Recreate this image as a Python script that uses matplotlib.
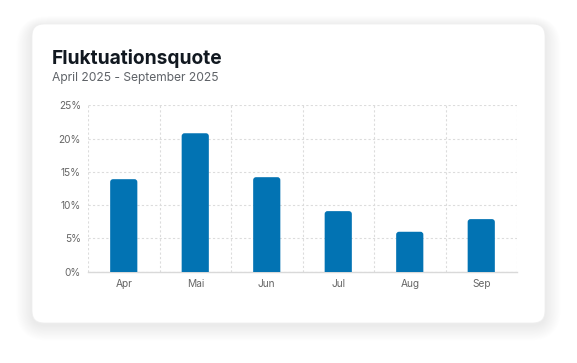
import matplotlib.pyplot as plt
from matplotlib.patches import FancyBboxPatch
from matplotlib.ticker import FuncFormatter, MultipleLocator
import numpy as np

months = ["Apr", "Mai", "Jun", "Jul", "Aug", "Sep"]
quote = [13.9, 20.8, 14.2, 9.1, 6.0, 7.9]
title = "Fluktuationsquote"
subtitle = "April 2025 - September 2025"

W, H = 577, 363
fig = plt.figure(figsize=(W / 100, H / 100), dpi=100)
fig.patch.set_facecolor("white")

# card with soft shadow (figure pixel coords -> fraction)
cx0, cy0, cx1, cy1 = 32, 24, 545, 323
def card_box(x0, y0, x1, y1, r, **kw):
    return FancyBboxPatch((x0 / W, 1 - y1 / H), (x1 - x0) / W, (y1 - y0) / H,
                          boxstyle=f"round,pad=0,rounding_size={r / W}",
                          mutation_aspect=W / H, transform=fig.transFigure, zorder=-5, **kw)

for i in range(20, 0, -1):
    fig.patches.append(card_box(cx0 - i * 0.8, cy0 + 2 - i * 0.5, cx1 + i * 0.8, cy1 + 2 + i * 0.8,
                                12 + i, facecolor="black", edgecolor="none", alpha=0.0055))
fig.patches.append(card_box(cx0, cy0, cx1, cy1, 12, facecolor="white", edgecolor="#efefef", lw=0.6))

fig.text(52 / W, 1 - 58 / H, title, fontsize=13.8, fontweight="bold", family=["Inter", "DejaVu Sans"],
         color="#111820", va="center", ha="left")
fig.text(52 / W, 1 - 78 / H, subtitle, fontsize=8.7, family=["Inter", "DejaVu Sans"],
         color="#5f6368", va="center", ha="left")

ax = fig.add_axes([88 / W, 1 - 271.7 / H, 429 / W, 166.4 / H])
ax.set_facecolor("none")
x = np.arange(len(months))
ax.set_xlim(-0.5, len(months) - 0.5)
ax.set_ylim(0, 25)

bw = 0.38
for xi, v in zip(x, quote):
    ax.add_patch(FancyBboxPatch((xi - bw / 2, -1), bw, v + 1,
                                boxstyle="round,pad=0,rounding_size=0.04",
                                mutation_aspect=10.7, facecolor="#0273b3", edgecolor="none",
                                clip_on=True, zorder=3))

ax.yaxis.set_major_locator(MultipleLocator(5))
ax.yaxis.set_major_formatter(FuncFormatter(lambda v, p: f"{v:.0f}%"))
ax.set_xticks(x)
ax.set_xticklabels(months)
ax.set_xticks(np.arange(-0.5, len(months)), minor=True)
ax.grid(axis="y", which="major", color="#dcdcdc", linestyle=(0, (2, 2)), lw=0.8, zorder=0)
ax.grid(axis="x", which="minor", color="#dcdcdc", linestyle=(0, (2, 2)), lw=0.8, zorder=0)
ax.tick_params(which="both", length=0)
ax.tick_params(axis="y", pad=5, labelsize=7.3, labelcolor="#666666")
ax.tick_params(axis="x", pad=5.5, labelsize=7.3, labelcolor="#666666")
for t in ax.get_xticklabels() + ax.get_yticklabels():
    t.set_family(["Inter", "DejaVu Sans"])
for s in ["top", "right", "left"]:
    ax.spines[s].set_visible(False)
ax.spines["bottom"].set_color("#d9d9d9")
ax.spines["bottom"].set_linewidth(1.0)

fig.savefig("out.png", dpi=100, facecolor="white")
